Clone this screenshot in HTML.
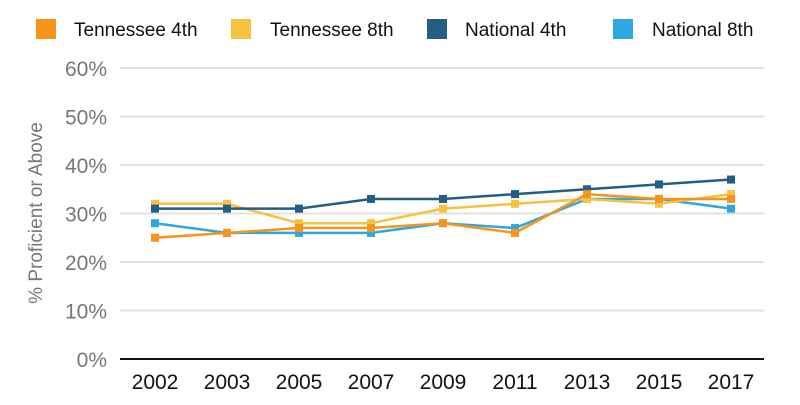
<!DOCTYPE html>
<html><head><meta charset="utf-8"><style>
body{margin:0;background:#fff;width:800px;height:400px;overflow:hidden}
svg{font-family:"Liberation Sans",sans-serif}
</style></head><body>
<svg width="800" height="400" xmlns="http://www.w3.org/2000/svg">
<g font-size="19" fill="#111">
<rect x="36" y="19" width="20" height="20" fill="#F7941D"/><text x="74" y="36">Tennessee 4th</text>
<rect x="231" y="19" width="20" height="20" fill="#F5C242"/><text x="270" y="36">Tennessee 8th</text>
<rect x="427" y="19" width="20" height="20" fill="#255E85"/><text x="465" y="36">National 4th</text>
<rect x="613" y="19" width="20" height="20" fill="#2EA8E0"/><text x="652" y="36">National 8th</text>
</g>
<g stroke="#e2e2e2" stroke-width="2">
<line x1="120" x2="764" y1="68" y2="68"/><line x1="120" x2="764" y1="116.5" y2="116.5"/>
<line x1="120" x2="764" y1="165" y2="165"/><line x1="120" x2="764" y1="213.5" y2="213.5"/>
<line x1="120" x2="764" y1="262" y2="262"/><line x1="120" x2="764" y1="310.5" y2="310.5"/>
</g>
<line x1="120" x2="764" y1="359" y2="359" stroke="#111" stroke-width="2"/>
<g font-size="21" fill="#777" text-anchor="end">
<text x="107" y="76">60%</text><text x="107" y="124.5">50%</text><text x="107" y="173">40%</text>
<text x="107" y="221.5">30%</text><text x="107" y="270">20%</text><text x="107" y="318.5">10%</text><text x="107" y="367">0%</text>
</g>
<text transform="translate(42,213) rotate(-90)" font-size="19" fill="#777" text-anchor="middle">% Proficient or Above</text>
<g font-size="21" fill="#111" text-anchor="middle">
<text x="155" y="389">2002</text><text x="227" y="389">2003</text><text x="299" y="389">2005</text>
<text x="371" y="389">2007</text><text x="443" y="389">2009</text><text x="515" y="389">2011</text>
<text x="587" y="389">2013</text><text x="659" y="389">2015</text><text x="731" y="389">2017</text>
</g>
<!-- National 8th -->
<g fill="#2EA8E0">
<polyline fill="none" stroke="#2EA8E0" stroke-width="2.5" points="155,223.2 227,232.9 299,232.9 371,232.9 443,223.2 515,228.05 587,198.95 659,198.95 731,208.65"/>
<rect x="151" y="219.2" width="8" height="8"/><rect x="223" y="228.9" width="8" height="8"/><rect x="295" y="228.9" width="8" height="8"/><rect x="367" y="228.9" width="8" height="8"/><rect x="439" y="219.2" width="8" height="8"/><rect x="511" y="224.05" width="8" height="8"/><rect x="583" y="194.95" width="8" height="8"/><rect x="655" y="194.95" width="8" height="8"/><rect x="727" y="204.65" width="8" height="8"/>
</g>
<!-- Tennessee 8th -->
<g fill="#F5C242">
<polyline fill="none" stroke="#F5C242" stroke-width="2.5" points="155,203.8 227,203.8 299,223.2 371,223.2 443,208.65 515,203.8 587,198.95 659,203.8 731,194.1"/>
<rect x="151" y="199.8" width="8" height="8"/><rect x="223" y="199.8" width="8" height="8"/><rect x="295" y="219.2" width="8" height="8"/><rect x="367" y="219.2" width="8" height="8"/><rect x="439" y="204.65" width="8" height="8"/><rect x="511" y="199.8" width="8" height="8"/><rect x="583" y="194.95" width="8" height="8"/><rect x="655" y="199.8" width="8" height="8"/><rect x="727" y="190.1" width="8" height="8"/>
</g>
<!-- National 4th -->
<g fill="#255E85">
<polyline fill="none" stroke="#255E85" stroke-width="2.5" points="155,208.65 227,208.65 299,208.65 371,198.95 443,198.95 515,194.1 587,189.25 659,184.4 731,179.55"/>
<rect x="151" y="204.65" width="8" height="8"/><rect x="223" y="204.65" width="8" height="8"/><rect x="295" y="204.65" width="8" height="8"/><rect x="367" y="194.95" width="8" height="8"/><rect x="439" y="194.95" width="8" height="8"/><rect x="511" y="190.1" width="8" height="8"/><rect x="583" y="185.25" width="8" height="8"/><rect x="655" y="180.4" width="8" height="8"/><rect x="727" y="175.55" width="8" height="8"/>
</g>
<!-- Tennessee 4th -->
<g fill="#F7941D">
<polyline fill="none" stroke="#F7941D" stroke-width="2.5" points="155,237.75 227,232.9 299,228.05 371,228.05 443,223.2 515,232.9 587,194.1 659,198.95 731,198.95"/>
<rect x="151" y="233.75" width="8" height="8"/><rect x="223" y="228.9" width="8" height="8"/><rect x="295" y="224.05" width="8" height="8"/><rect x="367" y="224.05" width="8" height="8"/><rect x="439" y="219.2" width="8" height="8"/><rect x="511" y="228.9" width="8" height="8"/><rect x="583" y="190.1" width="8" height="8"/><rect x="655" y="194.95" width="8" height="8"/><rect x="727" y="194.95" width="8" height="8"/>
</g>
</svg>
</body></html>
